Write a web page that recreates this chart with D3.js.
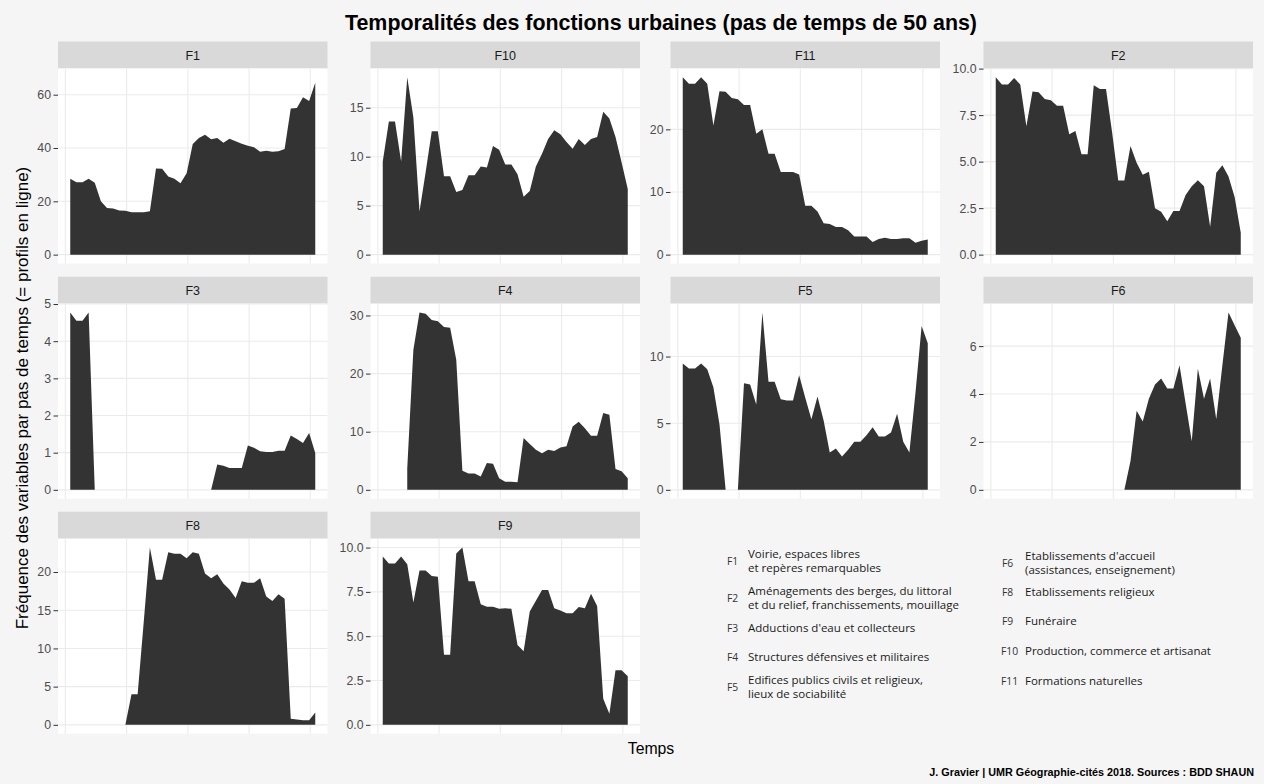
<!DOCTYPE html>
<html><head><meta charset="utf-8">
<script src="https://cdn.jsdelivr.net/npm/d3@7"></script>
<style>
html,body{margin:0;padding:0;background:#f5f5f5;}
svg{display:block;}
</style></head>
<body>
<svg id="chart" width="1264" height="784"></svg>
<script>
// ---------- DATA ----------
const temps = [40,90,140,190,240,290,340,390,440,490,540,590,640,690,740,790,840,890,940,990,1040,1090,1140,1190,1240,1290,1340,1390,1440,1490,1540,1590,1640,1690,1740,1790,1840,1890,1940,1990,2040];
const gridTemps = [0,500,1000,1500,2000];
const fonctions = ["F1","F10","F11","F2","F3","F4","F5","F6","F8","F9"];

const f1  = [28.5,27.2,27.2,28.5,27,20,17.5,17.3,16.6,16.5,15.9,15.9,15.9,16.3,32.3,32.2,29.3,28.5,26.8,30.5,41.5,43.8,45,43.3,43.8,42,43.5,42.5,41.6,40.8,40.3,38.6,39,38.6,38.8,39.6,54.8,55,59,57.6,64.5];
const f10 = [9.5,13.6,13.6,9.5,18.1,14,4.4,8.4,12.6,12.6,8,8,6.4,6.6,8.1,8.1,9.0,8.9,11.1,10.7,9.2,9.2,8.2,5.9,6.5,9.0,10.3,11.8,12.7,12.3,11.5,10.8,11.8,11.2,11.8,12.0,14.6,13.9,12.0,9.4,6.7];
const f11 = [28.3,27.3,27.3,28.3,27.3,20.6,26.1,26.0,25.0,24.8,23.9,23.9,19.3,20.0,16.1,16.1,13.2,13.2,13.2,12.8,7.8,7.8,6.9,5.0,4.9,4.4,4.4,3.9,2.9,2.9,2.9,2.0,2.5,2.7,2.5,2.5,2.6,2.6,1.9,2.2,2.4];
const f2  = [9.53,9.15,9.15,9.5,9.15,6.9,8.77,8.73,8.37,8.3,8.0,8.0,6.47,6.65,5.4,5.4,9.1,8.9,8.9,6.56,3.98,3.98,5.84,4.94,4.3,4.45,2.5,2.3,1.8,2.35,2.35,3.2,3.67,4.0,3.67,1.5,4.4,4.8,4.2,3.1,1.17];
const f3  = [4.77,4.55,4.55,4.77,0,0,0,0,0,0,0,0,0,0,0,0,0,0,0,0,0,0,0,0,0.68,0.65,0.59,0.59,0.59,1.19,1.13,1.04,1.02,1.02,1.05,1.05,1.46,1.37,1.26,1.53,0.99];
const f4  = [null,null,null,null,3.7,24.1,30.5,30.3,29.2,29.0,28.0,27.9,22.4,3.3,2.8,2.8,2.3,4.6,4.5,2.0,1.4,1.4,1.3,8.9,7.9,6.9,6.3,6.9,6.7,7.3,7.5,10.9,11.7,10.6,9.3,9.3,13.2,12.9,3.6,3.2,2.0];
const f5  = [9.47,9.1,9.1,9.47,9.05,7.7,4.9,0,0,0,8.0,7.9,6.4,13.3,8.1,8.1,6.8,6.7,6.7,8.6,6.9,5.3,7.0,5.2,2.8,3.1,2.5,3.0,3.6,3.6,4.1,4.7,4.0,4.0,4.3,5.7,3.6,2.8,7.3,12.3,11.0];
const f6  = [0,0,0,0,0,0,0,0,0,0,0,0,0,0,0,0,0,0,0,0,0,0,1.2,3.3,2.85,3.8,4.4,4.65,4.23,4.23,5.2,3.6,2.03,5.05,3.8,4.65,2.95,5.2,7.4,6.87,6.35];
const f8  = [0,0,0,0,0,0,0,0,0,0,4.0,4.0,13.5,23.2,19.0,19.0,22.6,22.4,22.4,21.8,22.6,22.4,19.8,19.2,19.7,18.5,17.7,16.6,18.8,18.6,18.6,19.2,16.8,16.2,17.1,16.5,0.8,0.7,0.6,0.6,1.6];
const f9  = [9.5,9.1,9.1,9.5,9.06,6.9,8.7,8.7,8.4,8.35,3.96,3.96,9.66,10.0,8.1,8.1,6.8,6.66,6.66,6.55,6.57,6.55,4.5,4.15,6.4,7.0,7.6,7.6,6.57,6.45,6.3,6.3,6.65,6.57,7.4,6.7,1.47,0.62,3.08,3.08,2.74];

const series = [f1,f10,f11,f2,f3,f4,f5,f6,f8,f9];
// upper end of each panel's y range (before the 5% padding); null = data maximum
const yRangeTop = [66.5,null,null,null,null,null,null,null,null,null];

const ticksF1  = [0,20,40,60];
const ticksF10 = [0,5,10,15];
const ticksF11 = [0,10,20];
const ticksF2  = [0,2.5,5,7.5,10];
const ticksF3  = [0,1,2,3,4,5];
const ticksF4  = [0,10,20,30];
const ticksF5  = [0,5,10];
const ticksF6  = [0,2,4,6];
const ticksF8  = [0,5,10,15,20];
const ticksF9  = [0,2.5,5,7.5,10];
const yTicks = [ticksF1,ticksF10,ticksF11,ticksF2,ticksF3,ticksF4,ticksF5,ticksF6,ticksF8,ticksF9];
const tickDecimals = [0,0,0,1,0,0,0,0,0,1];

const legendKeys = ["F1","F2","F3","F4","F5","F6","F8","F9","F10","F11"];
const legendLabels = [
  ["Voirie, espaces libres","et repères remarquables"],
  ["Aménagements des berges, du littoral","et du relief, franchissements, mouillage"],
  ["Adductions d'eau et collecteurs"],
  ["Structures défensives et militaires"],
  ["Edifices publics civils et religieux,","lieux de sociabilité"],
  ["Etablissements d'accueil","(assistances, enseignement)"],
  ["Etablissements religieux"],
  ["Funéraire"],
  ["Production, commerce et artisanat"],
  ["Formations naturelles"]
];

const titleText = "Temporalités des fonctions urbaines (pas de temps de 50 ans)";
const yTitle = "Fréquence des variables par pas de temps (= profils en ligne)";
const xTitle = "Temps";
const captionText = "J. Gravier | UMR Géographie-cités 2018. Sources : BDD SHAUN";

// ---------- LAYOUT ----------
const W = 1264, H = 784;
const colX = [58, 370.5, 670.5, 983.5];
const rowY = [41.5, 276.7, 511.7];
const stripH = 27;
const panelW = 269.5, panelH = 195;
const FONT = "'Liberation Sans', Arial, sans-serif";
const NARROW = "'Liberation Sans Narrow', 'Liberation Sans', Arial, sans-serif";

const svg = d3.select("#chart");
svg.append("rect").attr("width",W).attr("height",H).attr("fill","#f5f5f5");

svg.append("text").attr("x",661).attr("y",30).attr("text-anchor","middle")
  .attr("font-family",NARROW).attr("font-stretch","condensed")
  .attr("font-weight","bold").attr("font-size",21.4).attr("fill","#000").text(titleText);

const span = temps[temps.length-1]-temps[0];
const xDomain = [temps[0]-0.05*span, temps[temps.length-1]+0.05*span];

fonctions.forEach((name, k) => {
  const r = Math.floor(k/4), c = k%4;
  const x0 = colX[c], sy = rowY[r], py = sy + stripH;
  const vals = series[k];
  const vmax = yRangeTop[k] !== null ? yRangeTop[k] : d3.max(vals);
  const x = d3.scaleLinear().domain(xDomain).range([x0, x0+panelW]);
  const y = d3.scaleLinear().domain([-0.05*vmax, vmax*1.05]).range([py+panelH, py]);

  const g = svg.append("g");
  g.append("rect").attr("x",x0).attr("y",sy).attr("width",panelW).attr("height",stripH).attr("fill","#d9d9d9");
  g.append("text").attr("x",x0+panelW/2).attr("y",sy+stripH/2).attr("dy","0.36em")
    .attr("text-anchor","middle").attr("font-family",FONT).attr("font-size",12.5).attr("fill","#1a1a1a").text(name);
  g.append("rect").attr("x",x0).attr("y",py).attr("width",panelW).attr("height",panelH).attr("fill","#ffffff");
  g.selectAll(".gx").data(gridTemps).join("line")
    .attr("x1",d=>x(d)).attr("x2",d=>x(d)).attr("y1",py).attr("y2",py+panelH)
    .attr("stroke","#ebebeb").attr("stroke-width",1.1);
  const tks = yTicks[k].filter(t => t <= vmax*1.05 + 1e-9);
  g.selectAll(".gy").data(tks).join("line")
    .attr("x1",x0).attr("x2",x0+panelW).attr("y1",d=>y(d)).attr("y2",d=>y(d))
    .attr("stroke","#ebebeb").attr("stroke-width",1.1);
  const area = d3.area()
    .defined(d => d !== null)
    .x((d,i) => x(temps[i]))
    .y0(y(0)).y1(d => y(d));
  g.append("path").datum(vals).attr("d",area).attr("fill","#333333");
  const axis = d3.axisLeft(y).tickValues(tks).tickSize(4.5).tickPadding(2.5)
    .tickFormat(d3.format("." + tickDecimals[k] + "f"));
  const ag = g.append("g").attr("transform",`translate(${x0},0)`).call(axis);
  ag.select(".domain").remove();
  ag.selectAll(".tick line").attr("stroke","#333333").attr("stroke-width",1);
  ag.selectAll(".tick text").attr("font-family",FONT).attr("font-size",12.3).attr("fill","#4d4d4d");
});

svg.append("text").attr("transform","translate(28,398) rotate(-90)").attr("text-anchor","middle")
  .attr("font-family",FONT).attr("font-size",17).attr("fill","#000").text(yTitle);
svg.append("text").attr("x",651).attr("y",754).attr("text-anchor","middle")
  .attr("font-family",FONT).attr("font-size",15.8).attr("fill","#000").text(xTitle);
svg.append("text").attr("x",1254).attr("y",776).attr("text-anchor","end")
  .attr("font-family",NARROW).attr("font-stretch","condensed").attr("font-weight","bold")
  .attr("font-size",10.8).attr("fill","#000").text(captionText);

// legend
const LFONT = "'Open Sans', 'Noto Sans', sans-serif";
const legPos = [
  {kx:727, tx:748, y:561},
  {kx:727, tx:748, y:598},
  {kx:727, tx:748, y:628},
  {kx:727, tx:748, y:657},
  {kx:727, tx:748, y:687},
  {kx:1002, tx:1025, y:563},
  {kx:1002, tx:1025, y:592},
  {kx:1002, tx:1025, y:621},
  {kx:1001, tx:1025, y:651},
  {kx:1001, tx:1025, y:681}
];
legendKeys.forEach((key, i) => {
  const p = legPos[i];
  const lg = svg.append("g");
  lg.append("text").attr("x",p.kx).attr("y",p.y).attr("dy","0.35em")
    .attr("font-family",LFONT).attr("font-size",10.3).attr("fill","#333").text(key);
  const lines = legendLabels[i];
  const lh = 13.5;
  lines.forEach((ln, j) => {
    lg.append("text").attr("x",p.tx).attr("y",p.y + (j-(lines.length-1)/2)*lh).attr("dy","0.35em")
      .attr("font-family",LFONT).attr("font-size",11.5).attr("fill","#1a1a1a").text(ln);
  });
});
</script>
</body></html>
